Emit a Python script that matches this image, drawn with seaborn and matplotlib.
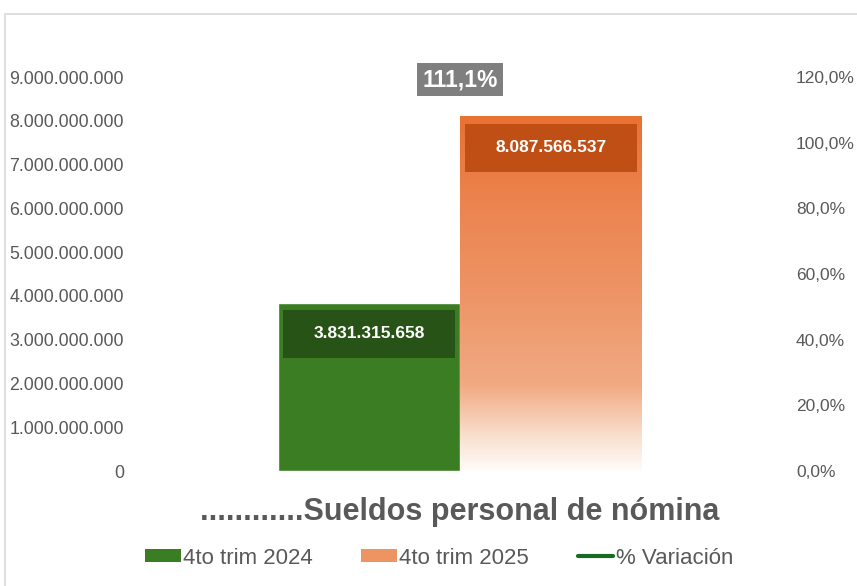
import numpy as np
import pandas as pd
import matplotlib
matplotlib.use("Agg")
import matplotlib.pyplot as plt
import seaborn as sns
from matplotlib.patches import Rectangle, Patch
from matplotlib.lines import Line2D
from matplotlib.colors import LinearSegmentedColormap
from matplotlib.ticker import FuncFormatter, MultipleLocator

# ---------------- data ----------------
categories = ["............Sueldos personal de nómina"]
periods = ["4to trim 2024", "4to trim 2025"]
values_2024 = [3831315658]
values_2025 = [8087566537]
variation = [1.111]
variation_name = "% Variación"

# ---------------- styles ----------------
GREEN = "#3B7D23"
GREEN_DARK = "#275317"
ORANGE = "#E97132"
ORANGE_DARK = "#C04F15"
LINE_GREEN = "#196B24"
GRAY_TXT = "#595959"
LABEL_GRAY = "#7F7F7F"

sns.set_theme(style="white")
plt.rcParams["font.family"] = ["Liberation Sans", "DejaVu Sans"]

df = pd.DataFrame({
    "categoria": categories * 2,
    "periodo": [periods[0]] * len(categories) + [periods[1]] * len(categories),
    "valor": values_2024 + values_2025,
})

W, H = 857, 586
fig = plt.figure(figsize=(W / 100, H / 100), dpi=100)
fig.patch.set_facecolor("white")

# outer chart border (light gray)
fig.add_artist(Rectangle((5 / W, -0.02), 1.05, (H - 14) / H + 0.02, transform=fig.transFigure,
                         fill=False, edgecolor="#D9D9D9", linewidth=1.2))

ax = fig.add_axes([135 / W, (H - 471) / H, 650 / W, 394 / H])
sns.barplot(data=df, x="categoria", y="valor", hue="periodo", palette=[GREEN, ORANGE],
            width=0.56, saturation=1, legend=False, ax=ax, zorder=2)

ax.set_xlim(-0.5, 0.5)
ax.set_ylim(0, 9e9)
ax.yaxis.set_major_locator(MultipleLocator(1e9))
ax.yaxis.set_major_formatter(FuncFormatter(lambda v, p: f"{v:,.0f}".replace(",", ".")))
ax.tick_params(axis="y", length=0, pad=8, labelsize=12.8, labelcolor=GRAY_TXT)
ax.tick_params(axis="x", length=0, pad=19)
for lbl in ax.get_xticklabels():
    lbl.set_fontsize(22)
    lbl.set_fontweight("bold")
    lbl.set_color(GRAY_TXT)
ax.set_xlabel("")
ax.set_ylabel("")
for s in ax.spines.values():
    s.set_visible(False)
ax.grid(False)

bars = list(ax.patches)
green_bar, orange_bar = bars[0], bars[1]

# gradient for orange bar
x0, y0 = orange_bar.get_x(), orange_bar.get_y()
bw, bh = orange_bar.get_width(), orange_bar.get_height()
orange_bar.set_facecolor("none")
orange_bar.set_edgecolor("none")
cmap = LinearSegmentedColormap.from_list("og", [
    (0.00, (255 / 255, 252 / 255, 250 / 255)),
    (0.10, (249 / 255, 222 / 255, 205 / 255)),
    (0.24, (241 / 255, 170 / 255, 131 / 255)),
    (0.50, (238 / 255, 148 / 255, 102 / 255)),
    (0.75, (236 / 255, 132 / 255, 80 / 255)),
    (1.00, (233 / 255, 113 / 255, 50 / 255)),
])
grad = np.linspace(1, 0, 256).reshape(-1, 1)
ax.imshow(grad, cmap=cmap, aspect="auto", extent=[x0, x0 + bw, y0, y0 + bh],
          origin="upper", zorder=2, interpolation="bilinear")
ax.set_xlim(-0.5, 0.5)
ax.set_ylim(0, 9e9)

# value labels in dark boxes inside bars
def inner_label(bar, color, value):
    bx, bwid, top = bar.get_x(), bar.get_width(), bar.get_y() + bar.get_height()
    mx = bwid * 0.025
    box_h = 1.1e9
    top_gap = 0.15e9
    ax.add_patch(Rectangle((bx + mx, top - top_gap - box_h), bwid - 2 * mx, box_h,
                           facecolor=color, edgecolor="none", zorder=3))
    ax.text(bx + bwid / 2, top - top_gap - box_h / 2, f"{value:,.0f}".replace(",", "."),
            ha="center", va="center", color="white", fontsize=12.5, fontweight="bold", zorder=4)

inner_label(green_bar, GREEN_DARK, values_2024[0])
inner_label(orange_bar, ORANGE_DARK, values_2025[0])

# secondary axis for % variation
ax2 = ax.twinx()
var_df = pd.DataFrame({"categoria": categories, "var": variation})
sns.lineplot(data=var_df, x="categoria", y="var", color=LINE_GREEN, linewidth=3, ax=ax2)
ax2.set_xlim(-0.5, 0.5)
ax2.set_ylim(0, 1.2)
ax2.yaxis.set_major_locator(MultipleLocator(0.2))
ax2.yaxis.set_major_formatter(FuncFormatter(lambda v, p: f"{v * 100:.1f}%".replace(".", ",")))
ax2.tick_params(axis="y", length=0, pad=8, labelsize=12.5, labelcolor=GRAY_TXT)
ax2.set_ylabel("")
ax2.set_xlabel("")
for s in ax2.spines.values():
    s.set_visible(False)
ax2.grid(False)

for i, v in enumerate(variation):
    ax2.annotate(f"{v * 100:.1f}%".replace(".", ","), xy=(i, v), xytext=(0, 19),
                 textcoords="offset points", ha="center", va="center",
                 fontsize=16.5, fontweight="bold", color="white",
                 bbox=dict(boxstyle="square,pad=0.22", facecolor=LABEL_GRAY, edgecolor="none"))

# legend
handles = [Patch(facecolor=GREEN, edgecolor="none"),
           Patch(facecolor="#EE9463", edgecolor="none"),
           Line2D([0], [0], color=LINE_GREEN, linewidth=3)]
fig.legend(handles, periods + [variation_name], loc="center", bbox_to_anchor=(439 / W, (H - 558) / H),
           ncol=3, frameon=False, fontsize=16, labelcolor=GRAY_TXT,
           handlelength=1.6, handleheight=0.5, handletextpad=0.1, columnspacing=2.2)

fig.savefig("out.png", dpi=100)
